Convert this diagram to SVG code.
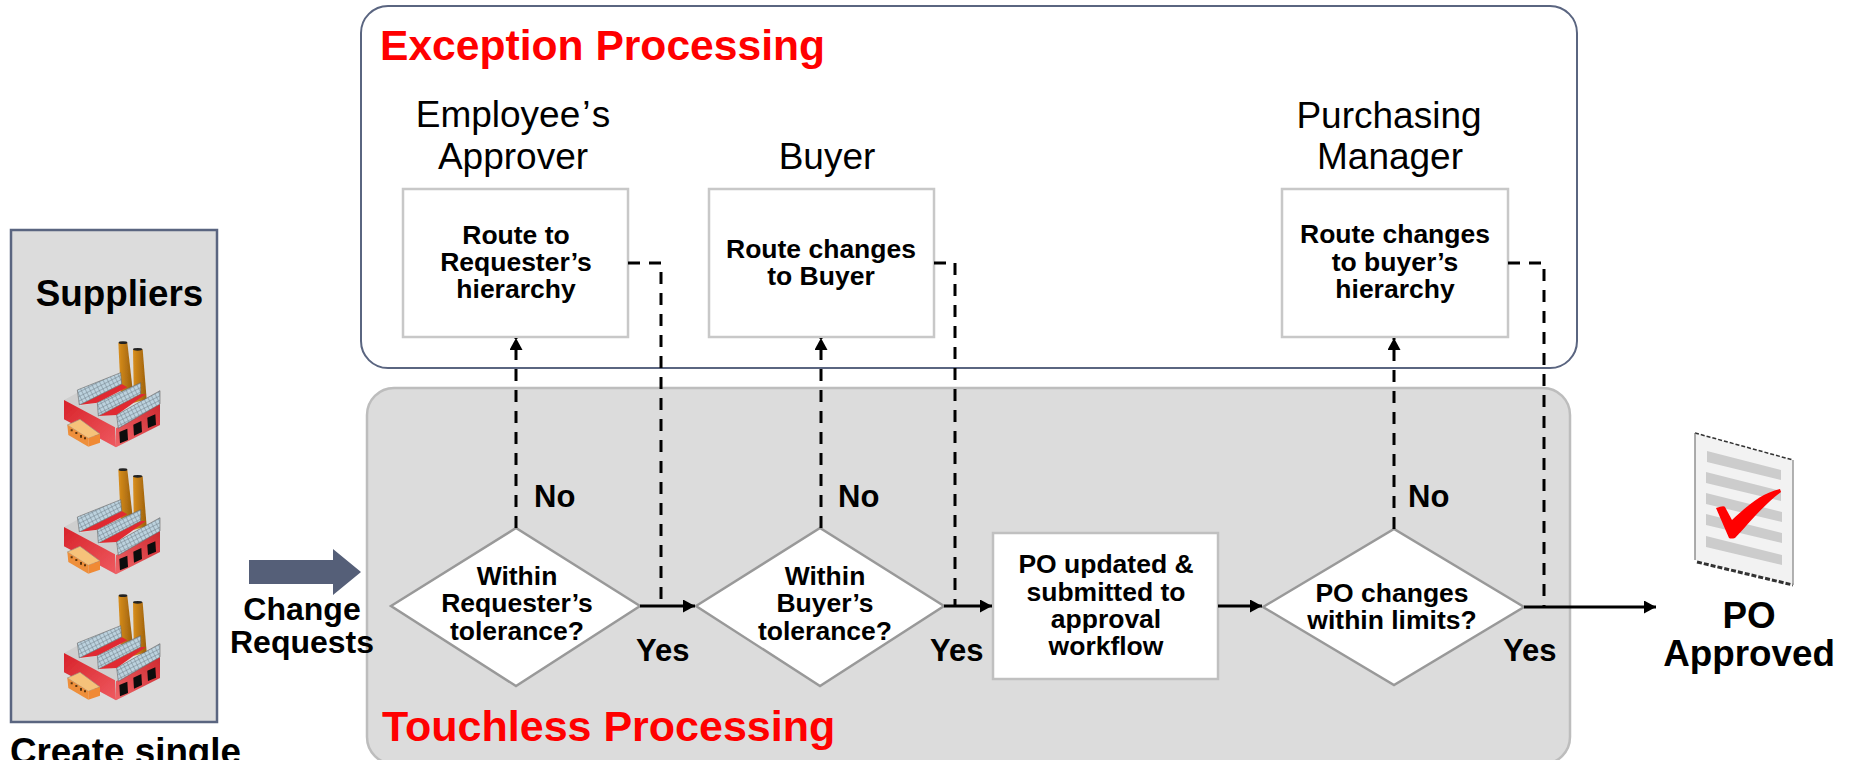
<svg xmlns="http://www.w3.org/2000/svg" width="1852" height="760" viewBox="0 0 1852 760">
<style>
text{font-family:"Liberation Sans",Arial,sans-serif;fill:#000;text-anchor:middle}
.s26{font-size:26.5px;font-weight:700}
.s36{font-size:36.8px;font-weight:700}
.s32{font-size:32px;font-weight:700}
.s30{font-size:31px;font-weight:700;text-anchor:start}
.role{font-size:37px}
.title{font-weight:700;fill:#f00;text-anchor:start}
.box{fill:#fff;stroke:#c8c8c8;stroke-width:2.5}
.dia{fill:#fff;stroke:#999;stroke-width:2.5}
.solid{fill:none;stroke:#000;stroke-width:3}
.dash{fill:none;stroke:#000;stroke-width:3;stroke-dasharray:12 9}
</style>
<defs>
<marker id="ah" markerUnits="userSpaceOnUse" markerWidth="13" markerHeight="14" refX="12" refY="6.5" orient="auto"><path d="M0 0L12 6.5L0 13Z" fill="#000"/></marker>
<filter id="soft" x="-5%" y="-5%" width="110%" height="110%"><feGaussianBlur stdDeviation="0.45"/></filter>
<filter id="softf" x="-5%" y="-5%" width="110%" height="110%"><feGaussianBlur stdDeviation="1.200"/></filter>
<linearGradient id="red" x1="0" y1="0" x2="1" y2="1"><stop offset="0" stop-color="#d8222a"/><stop offset="1" stop-color="#ee5a60"/></linearGradient>
<linearGradient id="red2" x1="0" y1="1" x2="1" y2="0"><stop offset="0" stop-color="#ef6468"/><stop offset="1" stop-color="#cf2a30"/></linearGradient>
<linearGradient id="chim" x1="0" y1="0" x2="1" y2="0"><stop offset="0" stop-color="#d98f1d"/><stop offset="1" stop-color="#9c600c"/></linearGradient>
<pattern id="win" width="12" height="12" patternUnits="userSpaceOnUse" patternTransform="rotate(-27)"><rect width="12" height="12" fill="#bcd2de"/><path d="M0 0H12M0 0V12" stroke="#5f6f78" stroke-width="2.400"/></pattern>
<g id="factory" filter="url(#softf)">
<path d="M205 38h27l15 132l-10 30l-24 0z" fill="url(#chim)"/>
<ellipse cx="219" cy="38" rx="13" ry="4" fill="#222"/>
<path d="M249 58h29l12 150l-38 10z" fill="url(#chim)"/>
<ellipse cx="263" cy="58" rx="14" ry="4" fill="#222"/>
<path d="M42 210L82 188L88 228L142 218L145 258L200 255L205 295L330 222V285L198 352L42 268Z" fill="#cfcfcf"/>
<path d="M42 210L195 292L198 352L42 268Z" fill="url(#red)"/>
<path d="M198 295L330 222V285L198 352Z" fill="url(#red2)"/>
<path d="M88 225L215 162L232 172L142 218Z" fill="#e02a30"/>
<path d="M145 258L272 192L288 192L200 255Z" fill="#e02a30"/>
<path d="M82 180L212 128L215 162L88 225Z" fill="url(#win)" stroke="#666" stroke-width="1.800"/>
<path d="M142 218L272 158V192L145 258Z" fill="url(#win)" stroke="#666" stroke-width="1.800"/>
<path d="M200 255L330 182V222L205 295Z" fill="url(#win)" stroke="#666" stroke-width="1.800"/>
<path d="M208 306l24-10l2 34l-24 10zM250 284l24-11l2 33l-24 11zM292 263l24-10l2 31l-24 10z" fill="#0a0a0a"/>
<path d="M52 285L90 268L150 312L115 325Z" fill="#f6c27a" stroke="#9c9080" stroke-width="2"/>
<path d="M52 285L115 325L115 350L55 315Z" fill="#ee8f3a"/>
<path d="M115 325L150 312V338L115 350Z" fill="#f08a34"/>
<path d="M62 298h6v6h-6zM76 306h6v6h-6zM90 315h6v8h-6zM102 322h6v6h-6z" fill="#5a3410"/>
</g>
</defs>

<g id="suppliers">
<rect x="11" y="230" width="206" height="492" fill="#dcdcdc" stroke="#5a6580" stroke-width="2.5"/>
<text class="s36" x="119.500" y="306">Suppliers</text>
<use href="#factory" transform="translate(50 330) scale(.3333)"/>
<use href="#factory" transform="translate(50 457) scale(.3333)"/>
<use href="#factory" transform="translate(50 583) scale(.3333)"/>
<text class="s36" x="125.500" y="764">Create single</text>
</g>

<g id="exception-panel">
<rect x="361" y="6" width="1216" height="362" rx="27" fill="#fff" stroke="#5a6580" stroke-width="2"/>
<text class="title" style="font-size:42.600px" x="380" y="60">Exception Processing</text>
</g>
<g id="touchless-panel">
<rect x="367" y="388" width="1203" height="376" rx="27" fill="#dcdcdc" stroke="#bdbdbd" stroke-width="2.5"/>
<text class="title" style="font-size:43px" x="382" y="741">Touchless Processing</text>
</g>

<g id="change-requests">
<path d="M249 560H333V549L361 572L333 595V584H249Z" fill="#555f78"/>
<text class="s32" x="302" y="620">Change</text>
<text class="s32" x="302" y="653">Requests</text>
</g>

<g id="employees-approver">
<text class="role" x="513" y="127">Employee<tspan dx="2">’</tspan><tspan dx="2">s</tspan></text>
<text class="role" x="513" y="169">Approver</text>
</g>
<g id="buyer-label"><text class="role" x="827" y="169">Buyer</text></g>
<g id="purchasing-manager">
<text class="role" x="1389" y="128">Purchasing</text>
<text class="role" x="1390" y="169">Manager</text>
</g>

<g id="route-requester">
<rect class="box" x="403" y="189" width="225" height="148"/>
<text class="s26" x="516" y="244">Route to</text>
<text class="s26" x="516" y="271">Requester’s</text>
<text class="s26" x="516" y="298">hierarchy</text>
</g>
<g id="route-buyer">
<rect class="box" x="709" y="189" width="225" height="148"/>
<text class="s26" x="821" y="258">Route changes</text>
<text class="s26" x="821" y="285">to Buyer</text>
</g>
<g id="route-manager">
<rect class="box" x="1282" y="189" width="226" height="148"/>
<text class="s26" x="1395" y="243">Route changes</text>
<text class="s26" x="1395" y="271">to buyer’s</text>
<text class="s26" x="1395" y="298">hierarchy</text>
</g>

<g id="within-requester">
<path class="dia" d="M391 606L516 528L640 606L516 686Z"/>
<text class="s26" x="517" y="585">Within</text>
<text class="s26" x="517" y="612">Requester’s</text>
<text class="s26" x="517" y="640">tolerance?</text>
</g>
<g id="within-buyer">
<path class="dia" d="M696 606L820 528L944 606L820 686Z"/>
<text class="s26" x="825" y="585">Within</text>
<text class="s26" x="825" y="612">Buyer’s</text>
<text class="s26" x="825" y="640">tolerance?</text>
</g>
<g id="po-updated">
<rect x="993" y="533" width="225" height="146" fill="#fff" stroke="#c0c0c0" stroke-width="2.5"/>
<text class="s26" x="1106" y="573">PO updated &amp;</text>
<text class="s26" x="1106" y="601">submitted to</text>
<text class="s26" x="1106" y="628">approval</text>
<text class="s26" x="1106" y="655">workflow</text>
</g>
<g id="po-limits">
<path class="dia" d="M1263 607L1394 529L1524 607L1394 685Z"/>
<text class="s26" x="1392" y="602">PO changes</text>
<text class="s26" x="1392" y="629">within limits?</text>
</g>

<g id="po-approved">
<g filter="url(#soft)">
<path d="M1695 433L1793 460V585L1695 560Z" fill="#f2f2f2"/>
<path d="M1695 433L1793 460" fill="none" stroke="#333" stroke-width="1.5" stroke-dasharray="4 2"/>
<path d="M1697 562L1793 585" fill="none" stroke="#333" stroke-width="3" stroke-dasharray="5 2"/>
<path d="M1695 433V560" fill="none" stroke="#777" stroke-width="1.2"/>
<path d="M1793 460V585" fill="none" stroke="#999" stroke-width="1.5"/>
<path d="M1707 451L1781 470V480L1707 462Z M1706 472L1781 491V501L1706 483Z M1706 493L1782 512V522L1706 504Z M1706 514L1782 533V543L1706 525Z M1706 536L1782 555V565L1706 547Z" fill="#cccccc"/>
<path d="M1716 508Q1724 505 1725 507L1732 520C1748 505 1762 493 1780 489L1781 492C1762 506 1745 528 1735 538Q1731 539 1729 538Z" fill="#f00"/>
</g>
<text class="s36" x="1749" y="628">PO</text>
<text class="s36" x="1749" y="666">Approved</text>
</g>

<g id="connectors">
<path class="dash" d="M516 528V338" marker-end="url(#ah)"/>
<path class="dash" d="M821 528V338" marker-end="url(#ah)"/>
<path class="dash" d="M1394 529V338" marker-end="url(#ah)"/>
<path class="dash" d="M628 263H661V606"/>
<path class="dash" d="M934 263H955V606"/>
<path class="dash" d="M1508 263H1544V607"/>
<path class="solid" d="M640 606H695" marker-end="url(#ah)"/>
<path class="solid" d="M944 606H992" marker-end="url(#ah)"/>
<path class="solid" d="M1218 606H1262" marker-end="url(#ah)"/>
<path class="solid" d="M1524 607H1656" marker-end="url(#ah)"/>
</g>

<g id="branch-labels">
<text class="s30" x="534" y="507">No</text>
<text class="s30" x="838" y="507">No</text>
<text class="s30" x="1408" y="507">No</text>
<text class="s30" x="636" y="661">Yes</text>
<text class="s30" x="930" y="661">Yes</text>
<text class="s30" x="1503" y="661">Yes</text>
</g>
</svg>
